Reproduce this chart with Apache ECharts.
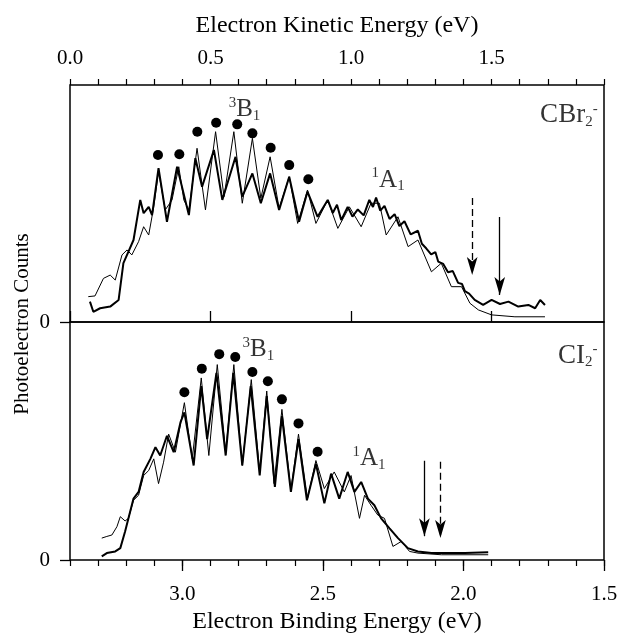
<!DOCTYPE html>
<html><head><meta charset="utf-8">
<script src="https://cdn.jsdelivr.net/npm/echarts@6/dist/echarts.min.js"></script>
<style>html,body{margin:0;padding:0;background:#fff}#c{width:621px;height:635px}</style>
</head><body><div id="c"></div>
<script>
// ---- Data (x = electron kinetic energy in eV, y = counts, arbitrary units 0-100) ----
const cbrThinE = [0.065,0.089,0.119,0.143,0.161,0.185,0.203,0.220,0.244,0.262,0.280,0.298,0.315,0.339,0.363,0.387,0.405,0.423,0.452,0.482,0.518,0.548,0.583,0.613,0.649,0.679,0.712,0.744,0.780,0.810,0.845,0.875,0.917,0.953,0.994,1.036,1.071,1.101,1.125,1.167,1.203,1.238,1.286,1.321,1.357,1.393,1.423,1.453,1.500,1.583,1.690];
const cbrThinV = [10.7,11.0,18.4,19.8,17.7,28.3,30.4,28.3,33.9,40.2,36.7,48.6,63.4,47.3,51.5,65.5,51.5,47.3,73.3,47.3,80.3,52.9,80.3,50.1,77.5,52.2,69.7,48.0,61.3,41.6,55.7,41.6,51.5,39.5,48.6,40.2,50.1,50.1,36.7,44.4,31.8,34.6,21.2,24.8,14.9,14.9,7.9,5.1,3.0,2.2,2.2];
const cbrThickE = [0.071,0.083,0.107,0.143,0.173,0.190,0.208,0.226,0.250,0.262,0.280,0.292,0.315,0.345,0.381,0.423,0.446,0.470,0.512,0.542,0.589,0.613,0.649,0.679,0.712,0.744,0.780,0.815,0.845,0.881,0.917,0.935,0.950,0.965,0.988,1.005,1.024,1.045,1.065,1.078,1.089,1.104,1.119,1.137,1.155,1.172,1.190,1.212,1.238,1.252,1.268,1.285,1.300,1.310,1.328,1.345,1.362,1.381,1.395,1.405,1.420,1.440,1.470,1.500,1.530,1.560,1.595,1.631,1.655,1.673,1.690];
const cbrThickV = [8.6,4.3,5.8,6.5,9.3,24.8,29.7,34.6,51.5,45.9,48.6,45.1,64.9,42.3,65.5,45.1,69.1,57.1,72.6,51.5,69.7,52.9,62.7,50.1,62.7,47.3,61.3,42.3,55.0,44.4,51.5,46.0,49.5,43.0,48.6,44.5,47.5,45.0,51.5,48.5,52.5,47.0,49.0,43.5,45.5,40.5,42.5,37.0,38.5,33.0,31.0,28.5,29.5,25.5,24.5,21.0,21.5,16.5,16.0,13.0,12.0,9.3,7.2,9.3,7.6,8.6,6.5,7.2,5.8,9.3,7.2];
const ciThinE = [0.113,0.131,0.149,0.167,0.179,0.196,0.208,0.226,0.244,0.262,0.280,0.298,0.315,0.333,0.351,0.375,0.407,0.435,0.467,0.494,0.524,0.554,0.583,0.613,0.645,0.675,0.700,0.726,0.754,0.786,0.813,0.845,0.875,0.905,0.940,0.976,1.000,1.030,1.048,1.071,1.095,1.119,1.149,1.179,1.208,1.238,1.321,1.488];
const ciThinV = [9.2,9.9,10.5,14.0,18.2,16.4,17.5,25.1,27.2,35.5,37.6,42.5,32.1,41.1,52.9,45.3,66.1,42.5,76.5,43.9,82.1,45.3,82.1,39.7,75.8,37.0,71.0,32.1,63.3,29.3,52.9,25.8,41.8,30.0,37.0,28.6,35.5,17.5,27.2,23.0,18.9,17.5,5.7,7.8,3.6,2.9,2.2,2.2];
const ciThickE = [0.113,0.131,0.161,0.179,0.196,0.208,0.226,0.244,0.262,0.286,0.304,0.321,0.345,0.369,0.393,0.407,0.440,0.467,0.488,0.521,0.554,0.581,0.613,0.643,0.675,0.700,0.729,0.754,0.786,0.813,0.843,0.875,0.905,0.929,0.958,0.988,1.012,1.036,1.060,1.083,1.107,1.137,1.167,1.202,1.238,1.286,1.405,1.488];
const ciThickV = [1.5,2.9,3.6,5.0,12.0,17.5,25.8,28.6,37.0,42.5,47.4,43.9,52.2,45.3,57.8,62.0,39.7,73.1,50.8,78.6,43.9,78.6,39.7,73.1,35.5,68.9,30.7,60.5,28.6,50.8,25.1,40.4,23.8,36.3,25.8,37.0,28.6,32.8,25.8,23.0,17.5,13.3,9.2,5.0,3.6,2.9,2.9,3.3];

// vibrational progression markers
const cbrDotE = [0.313,0.389,0.453,0.520,0.595,0.649,0.714,0.780,0.848];
const cbrDotV = [70.5,70.8,80.3,84.1,83.4,79.6,73.5,66.2,60.2];
const ciDotE = [0.407,0.469,0.531,0.588,0.649,0.704,0.754,0.813,0.881];
const ciDotV = [70.5,80.4,86.5,85.3,79.0,75.1,67.5,57.4,45.5];

// arrows: [eKE, from, to]
const cbrSolidArrow = [1.529, 44.3, 11.4];
const cbrDashArrow = [1.431, 52.3, 19.8];
const ciSolidArrow = [1.261, 41.7, 10.0];
const ciDashArrow = [1.318, 41.3, 9.2];

// annotations: [eKE, value, rich text]
const cbrLabels = [[0.621, 89.5, '{sup|3}{st|B}{sub|1}'], [1.132, 59.9, '{sup|1}{st|A}{sub|1}'], [1.775, 87.3, '{sp|CBr}{sub|2}{sup|-}']];
const ciLabels = [[0.670, 88.3, '{sup|3}{st|B}{sub|1}'], [1.064, 42.5, '{sup|1}{st|A}{sub|1}'], [1.807, 85.8, '{sp|CI}{sub|2}{sup|-}']];

// axes
const keTicks = [0, 0.5, 1.0, 1.5];
const beTicks = [1.5, 2.0, 2.5, 3.0];
const keRange = [0, 1.9];
const beRange = [1.5, 3.4];
const yZero = [0];

const FONT = 'Liberation Serif';
const zip = (a, b) => a.map((x, i) => [x, b[i]]);

const rich = {
  st: {fontFamily: FONT, fontSize: 25, color: '#000', lineHeight: 30, verticalAlign: 'middle'},
  sp: {fontFamily: FONT, fontSize: 27, color: '#000', lineHeight: 30, verticalAlign: 'middle'},
  sup: {fontFamily: FONT, fontSize: 15, color: '#000', lineHeight: 30, verticalAlign: 'top', padding: [1, 0, 0, 0]},
  sub: {fontFamily: FONT, fontSize: 15, color: '#000', lineHeight: 30, verticalAlign: 'bottom', padding: [0, 0, 1, 0]}
};

function labelSeries(arr, xi, yi) {
  return {
    type: 'scatter', xAxisIndex: xi, yAxisIndex: yi, symbolSize: 1,
    itemStyle: {color: 'rgba(0,0,0,0)'}, silent: true, z: 5,
    label: {show: true, position: 'inside', formatter: p => p.data.t, rich: rich},
    data: arr.map(a => ({value: [a[0], a[1]], t: a[2]}))
  };
}
function arrowSeries(a, xi, yi, dashed) {
  return {
    type: 'scatter', xAxisIndex: xi, yAxisIndex: yi, data: [], silent: true,
    markLine: {
      silent: true, animation: false, symbol: ['none', 'arrow'], symbolSize: [8, 18],
      label: {show: false}, emphasis: {disabled: true},
      lineStyle: {color: '#000', width: 1.3, type: dashed ? [7, 4] : 'solid'},
      data: [[{coord: [a[0], a[1]]}, {coord: [a[0], a[2]]}]]
    }
  };
}
function trace(e, v, xi, yi, w) {
  return {type: 'line', xAxisIndex: xi, yAxisIndex: yi, data: zip(e, v), showSymbol: false,
    symbol: 'none', lineStyle: {color: '#000', width: w}, silent: true};
}
function dots(e, v, xi, yi) {
  return {type: 'scatter', xAxisIndex: xi, yAxisIndex: yi, data: zip(e, v), symbolSize: 10,
    itemStyle: {color: '#000', opacity: 1}, silent: true, z: 4};
}

const tickLabel = {fontFamily: FONT, fontSize: 21, color: '#000'};

const option = {
  animation: false,
  backgroundColor: '#fff',
  grid: [
    {left: 70, right: 17, top: 85, height: 237, show: true, borderColor: '#000', borderWidth: 1.5},
    {left: 70, right: 17, top: 322, height: 240, show: true, borderColor: '#000', borderWidth: 1.5}
  ],
  xAxis: [
    {gridIndex: 0, type: 'value', position: 'top', min: keRange[0], max: keRange[1], interval: 0.5,
      axisLine: {show: false}, splitLine: {show: false},
      axisTick: {show: true, customValues: keTicks, length: 11, inside: false, lineStyle: {color: '#000', width: 1.3}},
      axisLabel: {customValues: keTicks, formatter: v => v.toFixed(1), margin: 16, ...tickLabel},
      name: 'Electron Kinetic Energy (eV)', nameLocation: 'middle', nameGap: 47,
      nameTextStyle: {fontFamily: FONT, fontSize: 24, color: '#000'}},
    {gridIndex: 0, type: 'value', position: 'top', min: keRange[0], max: keRange[1], interval: 0.1,
      axisLine: {show: false}, splitLine: {show: false}, axisLabel: {show: false},
      axisTick: {show: true, length: 6, inside: false, lineStyle: {color: '#000', width: 1.2}}},
    {gridIndex: 1, type: 'value', position: 'bottom', min: keRange[0], max: keRange[1], show: false},
    {gridIndex: 1, type: 'value', position: 'bottom', inverse: true, min: beRange[0], max: beRange[1], interval: 0.5,
      axisLine: {show: false}, splitLine: {show: false},
      axisTick: {show: true, customValues: beTicks, length: 11, inside: false, lineStyle: {color: '#000', width: 1.3}},
      axisLabel: {customValues: beTicks, formatter: v => v.toFixed(1), margin: 24, ...tickLabel},
      name: 'Electron Binding Energy (eV)', nameLocation: 'middle', nameGap: 50,
      nameTextStyle: {fontFamily: FONT, fontSize: 24, color: '#000'}},
    {gridIndex: 1, type: 'value', position: 'bottom', inverse: true, min: beRange[0], max: beRange[1], interval: 0.1,
      axisLine: {show: false}, splitLine: {show: false}, axisLabel: {show: false},
      axisTick: {show: true, length: 6, inside: false, lineStyle: {color: '#000', width: 1.2}}}
  ],
  yAxis: [
    {gridIndex: 0, type: 'value', min: 0, max: 100, axisLine: {show: false}, splitLine: {show: false},
      axisTick: {show: true, customValues: yZero, length: 10, lineStyle: {color: '#000', width: 1.3}},
      axisLabel: {customValues: yZero, margin: 20, ...tickLabel}},
    {gridIndex: 1, type: 'value', min: 0, max: 100, axisLine: {show: false}, splitLine: {show: false},
      axisTick: {show: true, customValues: yZero, length: 10, lineStyle: {color: '#000', width: 1.3}},
      axisLabel: {customValues: yZero, margin: 20, ...tickLabel}}
  ],
  graphic: [{
    type: 'text', x: 22, y: 324, rotation: Math.PI / 2,
    style: {text: 'Photoelectron Counts', fontFamily: FONT, fontSize: 21, fill: '#000', align: 'center', verticalAlign: 'middle'}
  }],
  series: [
    trace(cbrThinE, cbrThinV, 0, 0, 1),
    trace(cbrThickE, cbrThickV, 0, 0, 2),
    trace(ciThinE, ciThinV, 2, 1, 1),
    trace(ciThickE, ciThickV, 2, 1, 2),
    dots(cbrDotE, cbrDotV, 0, 0),
    dots(ciDotE, ciDotV, 2, 1),
    arrowSeries(cbrSolidArrow, 0, 0, false),
    arrowSeries(cbrDashArrow, 0, 0, true),
    arrowSeries(ciSolidArrow, 2, 1, false),
    arrowSeries(ciDashArrow, 2, 1, true),
    labelSeries(cbrLabels, 0, 0),
    labelSeries(ciLabels, 2, 1)
  ]
};
const chart = echarts.init(document.getElementById('c'), null, {renderer: 'canvas'});
chart.setOption(option);
</script></body></html>
